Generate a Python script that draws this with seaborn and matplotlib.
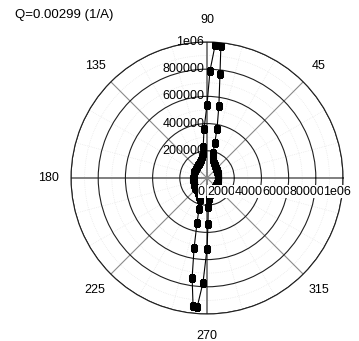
import numpy as np
import pandas as pd
import matplotlib
matplotlib.use('Agg')
import matplotlib.pyplot as plt
import seaborn as sns

# Intensity vs azimuth angle (deg)
angle_deg = [0, 5, 10, 15, 20, 25, 30, 35, 40, 45, 50, 55, 60, 65, 70, 73, 75,
             76.5, 77.5, 78.5, 80.7, 82.9, 84, 86.5, 88.4, 90, 93.5, 97, 100,
             103, 107, 112, 118, 125, 132, 140, 148, 156, 164, 172, 180,
             185, 190, 195, 200, 205, 210, 215, 220, 225, 230, 235, 240, 245,
             248, 252, 255.5, 257.5, 259.5, 261.5, 263.8, 265.6, 267.8, 270,
             271.2, 272.5, 275, 279, 284, 290, 296, 303, 310, 317, 325, 333,
             341, 349, 356, 360]
intensity = [80000, 80000, 81000, 82000, 84000, 86000, 88000, 90000, 93000,
             96000, 100000, 105000, 112000, 122000, 138000, 155000, 172000,
             190000, 260000, 370000, 540000, 770000, 975000, 980000, 790000,
             540000, 360000, 230000, 180000, 160000, 140000, 128000, 120000,
             114000, 110000, 106000, 103000, 101000, 100000, 100000, 100000,
             100000, 101000, 102000, 104000, 106000, 108000, 110000, 112000,
             115000, 118000, 122000, 128000, 138000, 150000, 170000, 235000,
             340000, 520000, 740000, 950000, 955000, 770000, 520000, 340000,
             210000, 155000, 130000, 115000, 105000, 98000, 93000, 90000,
             87000, 85000, 83000, 82000, 81000, 80000, 80000]

angle_ticks = [0, 45, 90, 135, 180, 225, 270, 315]
r_ticks = [0, 200000, 400000, 600000, 800000, 1000000]
r_labels = ['0', '200000', '400000', '600000', '800000', '1e06']
title = 'Q=0.00299 (1/A)'

sns.set_style('white')
plt.rcParams['font.family'] = ['Liberation Sans', 'DejaVu Sans']
plt.rcParams['font.size'] = 9
plt.rcParams['text.color'] = 'black'

df = pd.DataFrame({'theta': np.deg2rad(angle_deg), 'r': intensity})

fig = plt.figure(figsize=(3.59, 3.41), dpi=100)
ax = fig.add_axes([0.1978, 0.0792, 0.7577, 0.7977], projection='polar')

# faint dotted minor grid
for rr in np.arange(100000, 1000000, 200000):
    ax.plot(np.linspace(0, 2 * np.pi, 200), [rr] * 200, ls=':', lw=0.5,
            color='#e2e2e2', zorder=0)
for a in np.arange(15, 360, 15):
    if a % 45:
        ax.plot([np.deg2rad(a)] * 2, [0, 1e6], ls=':', lw=0.5,
                color='#e2e2e2', zorder=0)

ax.set_ylim(0, 1e6)
ax.set_yticks(r_ticks[1:])
ax.set_yticklabels([])
ax.set_xticks(np.deg2rad(angle_ticks))
ax.set_xticklabels([])
ax.grid(True)
for gl in ax.yaxis.get_gridlines():
    gl.set_color('#202020')
    gl.set_linewidth(0.8)
    gl.set_linestyle('-')
for a, gl in zip(angle_ticks, ax.xaxis.get_gridlines()):
    gl.set_linestyle('-')
    if a % 90 == 0:
        gl.set_color('#7f7f7f')
        gl.set_linewidth(1.4)
    else:
        gl.set_color('#8a8a8a')
        gl.set_linewidth(0.8)
ax.spines['polar'].set_color('#202020')
ax.spines['polar'].set_linewidth(0.8)

sns.lineplot(data=df, x='theta', y='r', ax=ax, sort=False, estimator=None,
             color='black', lw=0.8, marker='s', markersize=4.0,
             markeredgecolor='black', zorder=3)
ax.set_xlabel('')
ax.set_ylabel('')

# angle labels
for a in angle_ticks:
    ax.text(np.deg2rad(a), 1.165e6, str(a), ha='center', va='center',
            fontsize=9, color='black', clip_on=False)

# radial labels along the 90 deg axis
for rv, lbl in zip(r_ticks[1:], r_labels[1:]):
    ax.annotate(lbl, xy=(np.pi / 2, rv), xytext=(-2, 0),
                textcoords='offset points', ha='right', va='center',
                fontsize=9, color='black', zorder=4)

# radial labels below the 0 deg axis
for rv, lbl in zip(r_ticks, r_labels):
    ax.annotate(lbl, xy=(0, rv), xytext=(-4, -10),
                textcoords='offset points', ha='center', va='center',
                fontsize=9, color='black', zorder=4,
                bbox=dict(fc='white', ec='none', pad=0.3))

fig.text(0.042, 1 - 15 / 341, title, ha='left', va='center', fontsize=9.5,
         color='black')

fig.savefig('out.png', dpi=100)
